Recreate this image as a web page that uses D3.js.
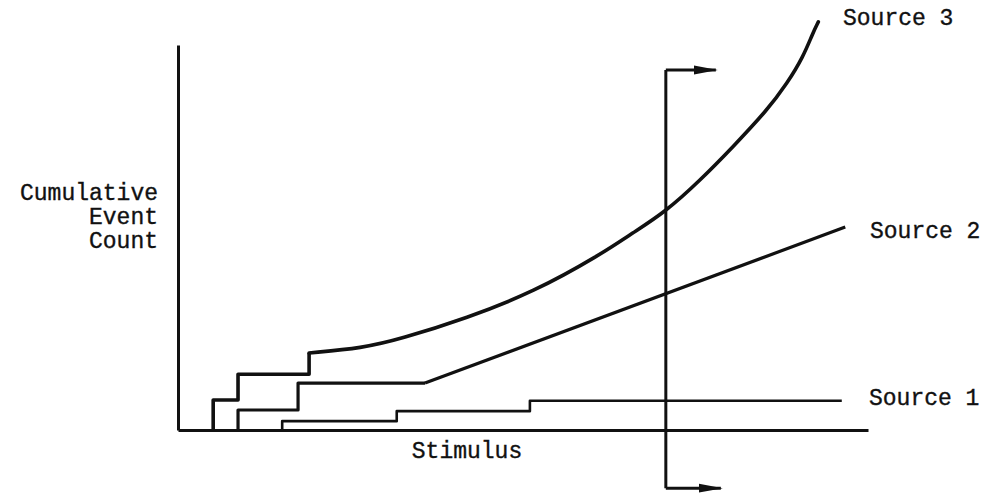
<!DOCTYPE html>
<html>
<head>
<meta charset="utf-8">
<script src="https://cdn.jsdelivr.net/npm/d3@7"></script>
<style>
  html, body { margin: 0; padding: 0; background: #fff; }
  svg text { font-family: "Liberation Mono", "DejaVu Sans Mono", monospace; font-size: 23px; fill: #111; stroke: #111; stroke-width: 0.35px; }
</style>
</head>
<body>
<div id="app"></div>
<script>
let width = 985,
    height = 495;

// stimulus at which each new event class appears, and the cumulative count it steps up to
const source1Events = [15.1, 31.7, 51.0];
const source1Levels = [2.3, 4.9, 7.6];
const source1End = 96.2;

const source2Events = [8.7, 17.4];
const source2Levels = [5.2, 12.2];
// after the last step the count grows steadily
const source2Trend = [[35.8, 12.2], [96.7, 52.7]];

const source3Events = [5.1, 8.7, 19.0];
const source3Levels = [7.8, 14.5, 20.0];
const source3Trend = [
    [19.0, 20.0], [26.8, 21.3], [32.2, 23.6], [41.9, 29.1], [51.5, 35.8],
    [61.2, 45.5], [65.9, 51.2], [70.6, 56.6], [75.7, 64.9], [80.4, 73.5],
    [85.4, 83.1], [88.3, 90.1], [90.6, 96.9], [92.0, 103.1], [92.8, 106.0]
];

const sourceLabels = ["Source 1", "Source 2", "Source 3"];
const yLabelLines = ["Cumulative", "Event", "Count"];
const xLabel = "Stimulus";

// stimulus value where the cut is taken, and how far the marker runs
const cutStimulus = 70.7;
const cutTop = 93.5;
const cutBottom = -15.1;

const x = d3.scaleLinear().domain([0, 100]).range([178, 868]);
const y = d3.scaleLinear().domain([0, 100]).range([430, 45]);

// turns step events into the corner points of a staircase
const stepPoints = (events, levels, endX) => {
    let pts = [[events[0], 0]];
    for (let i = 0; i < events.length; i++)
    {
        if (i > 0) pts.push([events[i], levels[i - 1]]);
        pts.push([events[i], levels[i]]);
    }
    if (endX !== undefined) pts.push([endX, levels[levels.length - 1]]);
    return pts;
};

const stepLine = d3.line().x(d => x(d[0])).y(d => y(d[1]));
const smoothLine = d3.line().x(d => x(d[0])).y(d => y(d[1])).curve(d3.curveBasis);

const svg = d3.select("#app").append("svg")
    .attr("width", width)
    .attr("height", height);

const defs = svg.append("defs");
defs.append("marker")
    .attr("id", "arrow")
    .attr("viewBox", "0 -5 24 10")
    .attr("refX", 22)
    .attr("refY", 0)
    .attr("markerWidth", 24)
    .attr("markerHeight", 10)
    .attr("markerUnits", "userSpaceOnUse")
    .attr("orient", "auto")
    .append("path")
    .attr("d", "M0,-4.5 L24,0 L0,4.5 Z")
    .attr("fill", "#111");

// axes: bare lines, no ticks
svg.append("g")
    .attr("transform", `translate(0,${y(0)})`)
    .call(d3.axisBottom(x).tickValues([]).tickSizeOuter(0))
    .select(".domain").attr("stroke", "#111").attr("stroke-width", 3);

svg.append("g")
    .attr("transform", `translate(${x(0)},0)`)
    .call(d3.axisLeft(y).tickValues([]).tickSizeOuter(0))
    .select(".domain").attr("stroke", "#111").attr("stroke-width", 3);

const curves = svg.append("g")
    .attr("fill", "none")
    .attr("stroke", "#111")
    .attr("stroke-linejoin", "round");

curves.append("path")
    .attr("stroke-width", 2.6)
    .attr("d", stepLine(stepPoints(source1Events, source1Levels, source1End)));

curves.append("path")
    .attr("stroke-width", 3.2)
    .attr("d", stepLine(stepPoints(source2Events, source2Levels, source2Trend[0][0])));
curves.append("path")
    .attr("stroke-width", 3.2)
    .attr("d", stepLine(source2Trend));

curves.append("path")
    .attr("stroke-width", 3.6)
    .attr("d", stepLine(stepPoints(source3Events, source3Levels)));
curves.append("path")
    .attr("stroke-width", 3.6)
    .attr("stroke-linecap", "round")
    .attr("d", smoothLine(source3Trend));

// cut marker with arrows
const cx = x(cutStimulus);
const cut = svg.append("g").attr("fill", "none").attr("stroke", "#111").attr("stroke-width", 3);
cut.append("path")
    .attr("d", `M${cx},${y(cutTop)} V${y(cutBottom)}`);
cut.append("path")
    .attr("marker-end", "url(#arrow)")
    .attr("d", `M${cx},${y(cutTop)} H${cx + 50}`);
cut.append("path")
    .attr("marker-end", "url(#arrow)")
    .attr("d", `M${cx},${y(cutBottom)} H${cx + 55}`);

// labels
svg.append("text").attr("x", 869).attr("y", 405).text(sourceLabels[0]);
svg.append("text").attr("x", 870).attr("y", 238).text(sourceLabels[1]);
svg.append("text").attr("x", 843).attr("y", 25).text(sourceLabels[2]);

svg.append("text").attr("x", 467).attr("y", 458).attr("text-anchor", "middle").text(xLabel);

svg.append("g").selectAll("text")
    .data(yLabelLines)
    .join("text")
    .attr("x", 158)
    .attr("y", (d, i) => 200 + i * 24)
    .attr("text-anchor", "end")
    .text(d => d);
</script>
</body>
</html>
